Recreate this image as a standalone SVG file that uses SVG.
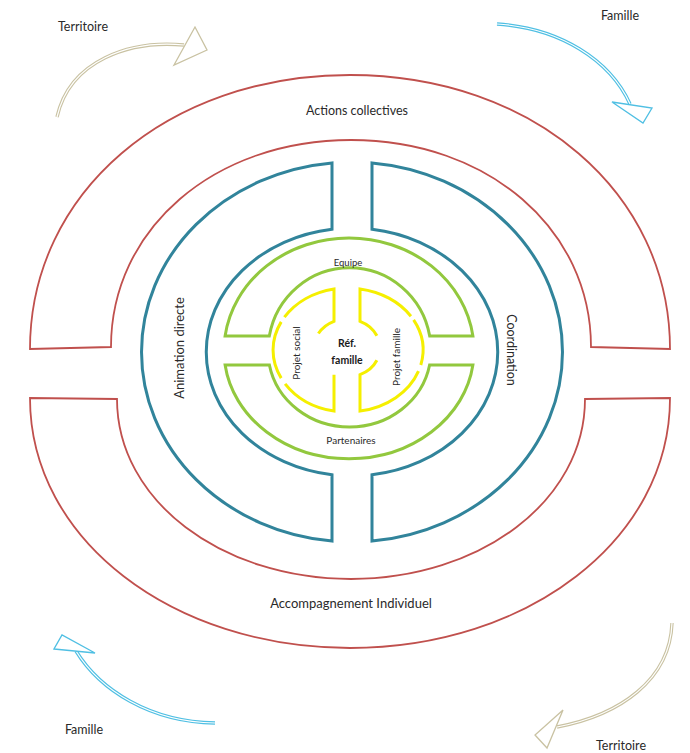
<svg xmlns="http://www.w3.org/2000/svg" width="690" height="753" viewBox="0 0 690 753">
<style>
.red{fill:none;stroke:#c0504d;stroke-width:1.8}
.blue{fill:none;stroke:#31849b;stroke-width:3}
.green{fill:none;stroke:#92c83e;stroke-width:3}
.yellow{fill:none;stroke:#f5ef00;stroke-width:3}
.t{font-family:Lato,"Liberation Sans",sans-serif;fill:#2a2a2a;text-anchor:middle}
.b{font-weight:bold;fill:#1a1a1a}
.shaftBeige{fill:none;stroke:#c9c2a2;stroke-width:3.4}
.shaftBlue{fill:none;stroke:#4fbfe3;stroke-width:3.4}
.inner{fill:none;stroke:#fff;stroke-width:1.2}
.headBeige{fill:#fff;stroke:#c9c2a2;stroke-width:1.3}
.headBlue{fill:#fff;stroke:#4fbfe3;stroke-width:1.3}
</style>
<rect width="690" height="753" fill="#fff"/>

<g id="actions-collectives">
<path class="red" d="M30,349 C30,193 167,75 350,75 C533,75 670,193 670,349 L591,347 C591,229 488,140 351,140 C214,140 111,229 111,347 Z"/>
<text class="t" x="357" y="115" font-size="12.5">Actions collectives</text>
</g>

<g id="accompagnement-individuel">
<path class="red" d="M30,398 C30,540 173,648 350,648 C527,648 670,540 670,398 L585,399 C585,501 480,579 351,579 C222,579 117,501 117,399 Z"/>
<text class="t" x="351" y="608" font-size="13">Accompagnement Individuel</text>
</g>

<g id="animation-directe">
<path class="blue" d="M332,162.9 A211,190 0 0 0 332,541.1 L332,474.8 A146,124 0 0 1 332,229.2 Z"/>
<text class="t" transform="translate(180,348) rotate(-90)" x="0" y="4.4" font-size="13">Animation directe</text>
</g>

<g id="coordination">
<path class="blue" d="M372,162.9 A211,190 0 0 1 372,541.1 L372,474.8 A146,124 0 0 0 372,229.2 Z"/>
<text class="t" transform="translate(511,350) rotate(90)" x="0" y="4.3" font-size="12.5">Coordination</text>
</g>

<g id="equipe">
<path class="green" d="M225.1,336 A125,113 0 0 1 472.9,336 L429.7,336 A81.5,83 0 0 0 269.3,336 Z"/>
<text class="t" x="348" y="265.5" font-size="9.5">Equipe</text>
</g>

<g id="partenaires">
<path class="green" d="M225.1,365 A125,108 0 0 0 472.9,365 L429.6,365 A81.5,76 0 0 1 269.4,365 Z"/>
<text class="t" x="351" y="443.5" font-size="10">Partenaires</text>
</g>

<g id="projet-social">
<path class="yellow" d="M318.4,333.5 A33,29 0 0 1 334,321.3 L334,288.9 A75,62 0 0 0 284.4,317.1"/>
<path class="yellow" d="M281.2,321.9 A75,62 0 0 0 281.2,378.1"/>
<path class="yellow" d="M285.1,383.8 A75,62 0 0 0 334,411.1 L334,374.7"/>
<text class="t" transform="translate(296,353) rotate(-90)" x="0" y="3.5" font-size="10">Projet social</text>
</g>

<g id="projet-famille">
<path class="yellow" d="M376.9,335.7 A33,29 0 0 0 360,321.3 L360,288.9 A75,62 0 0 1 410.9,316.2"/>
<path class="yellow" d="M413.6,319.9 A75,62 0 0 1 420.8,365"/>
<path class="yellow" d="M418.5,371.2 A75,62 0 0 1 360,411.1 L360,374.7 A33,29 0 0 0 376.9,360.3"/>
<text class="t" transform="translate(396,357) rotate(-90)" x="0" y="3.5" font-size="10">Projet famille</text>
</g>

<g id="ref-famille">
<text class="t b" x="347" y="346.5" font-size="10.5">Réf.</text>
<text class="t b" x="347" y="363.5" font-size="10.5">famille</text>
</g>

<g id="labels">
<text class="t" x="83" y="31" font-size="12.5">Territoire</text>
<text class="t" x="620" y="20" font-size="12.5">Famille</text>
<text class="t" x="84" y="734" font-size="12.5">Famille</text>
<text class="t" x="621" y="750" font-size="12.5">Territoire</text>
</g>

<g id="connectors">
<g id="arrow-territoire-top">
<path class="shaftBeige" d="M57,117 C70,60 130,40 184,45"/>
<path class="inner" d="M57,117 C70,60 130,40 184,45"/>
<polygon class="headBeige" points="195,27 174,65 207,50"/>
</g>
<g id="arrow-famille-top">
<path class="shaftBlue" d="M497,24 C560,28 610,60 630,104"/>
<path class="inner" d="M497,24 C560,28 610,60 630,104"/>
<polygon class="headBlue" points="612,102 652,108 643,123"/>
</g>
<g id="arrow-famille-bottom">
<path class="shaftBlue" d="M215,723 C150,722 100,690 76,651"/>
<path class="inner" d="M215,723 C150,722 100,690 76,651"/>
<polygon class="headBlue" points="54,649 95,653 62,635"/>
</g>
<g id="arrow-territoire-bottom">
<path class="shaftBeige" d="M672,623 C670,680 620,715 557,727"/>
<path class="inner" d="M672,623 C670,680 620,715 557,727"/>
<polygon class="headBeige" points="563,710 547,748 535,735"/>
</g>
</g>
</svg>
